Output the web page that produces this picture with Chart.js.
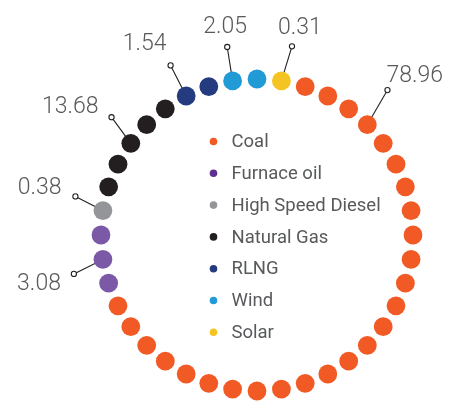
<!DOCTYPE html>
<html>
<head>
<meta charset="utf-8">
<style>
    html, body { margin: 0; padding: 0; background: #fff; }
    .chart-container { position: relative; width: 449px; height: 401px; }
</style>
</head>
<body>
<div class="chart-container">
    <canvas id="myChart" width="449" height="401"></canvas>
</div>

<script src="https://cdn.jsdelivr.net/npm/chart.js"></script>

<script>

    // Fuel mix (%), as labelled on the chart
    const categories = ['Coal', 'Furnace oil', 'High Speed Diesel', 'Natural Gas', 'RLNG', 'Wind', 'Solar'];
    const shares = [78.96, 3.08, 0.38, 13.68, 1.54, 2.05, 0.31];
    const dotColors = ['#f15a24', '#7b59a7', '#939598', '#231f20', '#243b80', '#229ad6', '#f4c522'];
    const legendColors = ['#f15a24', '#5f2e91', '#939598', '#231f20', '#243b80', '#229ad6', '#f4c522'];

    // ring of 40 dots, clockwise from top: category index of each dot
    const ringDots = [
        5, 6,
        0, 0, 0, 0, 0, 0, 0, 0, 0, 0, 0, 0, 0, 0, 0, 0, 0, 0, 0, 0, 0, 0, 0, 0, 0, 0,
        1, 1, 1,
        2,
        3, 3, 3, 3, 3,
        4, 4,
        5
    ];

    // which dot carries the value callout of each category
    const calloutDot = [5, 29, 31, 34, 37, 39, 1];

    // callout layout (leader length in scale units, small tilt, text anchor)
    const calloutStyle = [
        { len: 1.25, tilt: -3, align: 'left', dx: -1, dy: -16 },
        { len: 1.20, tilt: -3, align: 'right', dx: -13, dy: 8 },
        { len: 1.19, tilt: 3, align: 'right', dx: -14, dy: -10 },
        { len: 1.20, tilt: 3, align: 'right', dx: -13, dy: -12 },
        { len: 1.22, tilt: 0, align: 'right', dx: -4, dy: -23 },
        { len: 1.22, tilt: 0, align: 'center', dx: -2, dy: -22 },
        { len: 1.23, tilt: 1.5, align: 'center', dx: 8, dy: -20 }
    ];

    const ctx = document.getElementById('myChart').getContext('2d');
    const textColor = '#58595b';

    const calloutPlugin = {
        id: 'callouts',
        beforeDatasetsDraw(chart) {
            const scale = chart.scales.r;
            const c = chart.ctx;
            const step = 360 / ringDots.length;
            c.save();
            categories.forEach((cat, i) => {
                const idx = calloutDot[i];
                const st = calloutStyle[i];
                const p0 = scale.getPointPositionForValue(idx, 1);
                const p1 = scale.getPointPosition(idx + st.tilt / step, scale.getDistanceFromCenterForValue(st.len));
                c.strokeStyle = '#231f20';
                c.lineWidth = 1.1;
                c.beginPath();
                c.moveTo(p0.x, p0.y);
                c.lineTo(p1.x, p1.y);
                c.stroke();
                c.beginPath();
                c.arc(p1.x, p1.y, 2.6, 0, Math.PI * 2);
                c.fillStyle = '#fff';
                c.fill();
                c.stroke();

                c.fillStyle = textColor;
                c.font = '300 23px Roboto, "Liberation Sans", sans-serif';
                c.textAlign = st.align;
                c.textBaseline = 'alphabetic';
                c.fillText(shares[i].toFixed(2), p1.x + st.dx, p1.y + st.dy + 8);
            });
            c.restore();
        }
    };

    const legendPlugin = {
        id: 'ringLegend',
        afterDraw(chart) {
            const c = chart.ctx;
            const x0 = 213.5;
            const y0 = 141.5;
            const gap = 31.8;
            c.save();
            c.font = '18.5px Roboto, "Liberation Sans", sans-serif';
            c.textAlign = 'left';
            c.textBaseline = 'middle';
            categories.forEach((cat, i) => {
                const y = y0 + i * gap;
                c.beginPath();
                c.arc(x0, y, 3.8, 0, Math.PI * 2);
                c.fillStyle = legendColors[i];
                c.fill();
                c.fillStyle = textColor;
                c.fillText(cat, x0 + 18, y + 1);
            });
            c.restore();
        }
    };

    new Chart(ctx, {
        type: 'radar',
        data: {
            labels: ringDots.map((d, i) => String(i)),
            datasets: [{
                data: ringDots.map(() => 1),
                showLine: false,
                borderWidth: 0,
                fill: false,
                clip: false,
                pointRadius: 9.4,
                pointHoverRadius: 9.4,
                pointBorderWidth: 0,
                pointBackgroundColor: ringDots.map(d => dotColors[d])
            }]
        },
        options: {
            responsive: false,
            animation: false,
            events: [],
            layout: {
                padding: { left: 100, right: 34, top: 79, bottom: 9 }
            },
            plugins: {
                legend: { display: false },
                tooltip: { enabled: false }
            },
            scales: {
                r: {
                    min: 0,
                    max: 1,
                    ticks: { display: false },
                    grid: { display: false },
                    angleLines: { display: false },
                    pointLabels: { display: false }
                }
            }
        },
        plugins: [calloutPlugin, legendPlugin]
    });

</script>
</body>
</html>
